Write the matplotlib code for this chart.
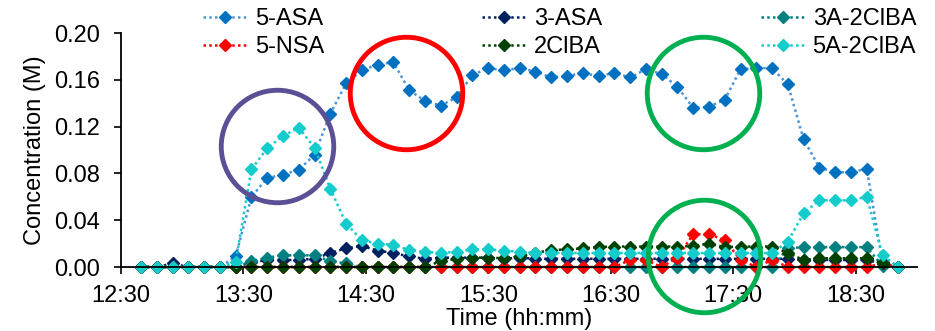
import numpy as np
import matplotlib
matplotlib.use("Agg")
import matplotlib.pyplot as plt

plt.rcParams['font.family'] = ['Liberation Sans', 'DejaVu Sans']

# sampling: first sample ~12:39:48, one sample every ~7.7 min
t_start = 12 + 39.8 / 60
t_step = 7.73 / 60

asa5 = [0, 0, 0, 0, 0, 0, 0.009, 0.060, 0.076, 0.079,
        0.083, 0.096, 0.131, 0.157, 0.168, 0.173, 0.175, 0.151, 0.142, 0.138,
        0.145, 0.164, 0.170, 0.168, 0.170, 0.167, 0.162, 0.163, 0.166, 0.163,
        0.166, 0.162, 0.169, 0.165, 0.154, 0.136, 0.137, 0.143, 0.169, 0.170,
        0.170, 0.156, 0.109, 0.085, 0.081, 0.081, 0.084, 0.004, 0]
asa3 = [0, 0, 0.003, 0, 0, 0, 0, 0.004, 0.006, 0.006,
        0.006, 0.007, 0.012, 0.016, 0.018, 0.014, 0.012, 0.009, 0.007, 0.008,
        0.008, 0.008, 0.008, 0.007, 0.008, 0.007, 0.007, 0.007, 0.007, 0.007,
        0.007, 0.007, 0.007, 0.007, 0.007, 0.007, 0.007, 0.007, 0.007, 0.007,
        0.007, 0.007, 0.006, 0.006, 0.006, 0.006, 0.006, 0.003, 0]
a3_2clba = [0, 0, 0, 0, 0, 0, 0, 0.005, 0.008, 0.010,
            0.010, 0.010, 0.005, 0.003, 0, 0, 0, 0, 0, 0,
            0, 0, 0, 0, 0, 0, 0, 0, 0, 0,
            0, 0, 0, 0, 0, 0, 0, 0, 0, 0,
            0, 0.016, 0.017, 0.017, 0.017, 0.017, 0.017, 0.001, 0]
nsa5 = [0, 0, 0, 0, 0, 0, 0, 0, 0, 0,
        0, 0, 0, 0, 0, 0, 0, 0, 0, 0,
        0, 0, 0, 0, 0, 0, 0, 0, 0, 0,
        0, 0.006, 0.006, 0, 0.008, 0.028, 0.028, 0.023, 0.006, 0,
        0.006, 0, 0, 0, 0, 0, 0, 0.003, 0]
clba2 = [0, 0, 0, 0, 0, 0, 0, 0, 0, 0,
         0, 0, 0, 0, 0, 0, 0, 0, 0, 0.005,
         0.007, 0.008, 0.008, 0.0075, 0.009, 0.012, 0.0145, 0.015, 0.016, 0.017,
         0.0175, 0.0175, 0.0175, 0.0175, 0.0175, 0.018, 0.020, 0.017, 0.0175, 0.0175,
         0.0175, 0.012, 0.006, 0.0075, 0.0075, 0.0075, 0.0075, 0.003, 0]
a5_2clba = [0, 0, 0, 0, 0, 0, 0.0045, 0.0835, 0.1015, 0.112,
            0.119, 0.102, 0.067, 0.037, 0.023, 0.020, 0.019, 0.0145, 0.013, 0.012,
            0.013, 0.015, 0.015, 0.014, 0.013, 0.012, 0.012, 0.012, 0.012, 0.012,
            0.012, 0.012, 0.012, 0.012, 0.012, 0.012, 0.012, 0.012, 0.012, 0.012,
            0.012, 0.0217, 0.046, 0.057, 0.057, 0.057, 0.060, 0.010, 0]

tick_hours = [12.5, 13.5, 14.5, 15.5, 16.5, 17.5, 18.5]
tick_labels = ['12:30', '13:30', '14:30', '15:30', '16:30', '17:30', '18:30']

# (label, values, line colour, marker colour) in Excel drawing order
series = [
    ('5-ASA', asa5, '#4C94D8', '#0070C0'),
    ('3-ASA', asa3, '#002060', '#002060'),
    ('3A-2ClBA', a3_2clba, '#008080', '#008080'),
    ('5-NSA', nsa5, '#FF0000', '#FF0000'),
    ('2ClBA', clba2, '#004000', '#004000'),
    ('5A-2ClBA', a5_2clba, '#14CCCC', '#14CCCC'),
]

# highlight circles: (hour, concentration, colour)
circles = [
    (13.771, 0.1031, '#5B4F96'),
    (14.831, 0.1487, '#FF0000'),
    (17.253, 0.1483, '#00B050'),
    (17.261, 0.0091, '#00B050'),
]

fs = 17
fig = plt.figure(figsize=(9.35, 3.31), dpi=100)
ax = fig.add_axes([121 / 935, 64 / 331, 796 / 935, 234 / 331])

t = t_start + t_step * np.arange(len(asa5))
handles = []
for label, vals, lc, mc in series:
    h, = ax.plot(t, vals, linestyle=(0, (1, 1.3)), linewidth=1.8, color=lc,
                 marker='D', markersize=6, markerfacecolor=mc,
                 markeredgecolor=mc, label=label, clip_on=False)
    handles.append(h)

for cx, cy, col in circles:
    ax.plot([cx], [cy], marker='o', markersize=81, markerfacecolor='none',
            markeredgecolor=col, markeredgewidth=3.5, clip_on=False, zorder=5)

ax.set_xlim(12.5, 19.0)
ax.set_ylim(0, 0.20)
ax.set_yticks(np.arange(0, 0.201, 0.04))
ax.set_yticklabels(['%.2f' % v for v in np.arange(0, 0.201, 0.04)])
ax.set_xticks(tick_hours)
ax.set_xticklabels(tick_labels)
ax.tick_params(axis='both', labelsize=fs, direction='out', length=5, width=1.2, color='black')
ax.tick_params(axis='y', pad=10)
ax.tick_params(axis='x', pad=8)
for s in ['top', 'right']:
    ax.spines[s].set_visible(False)
for s in ['left', 'bottom']:
    ax.spines[s].set_linewidth(1.3)

ax.set_ylabel('Concentration (M)', fontsize=fs, labelpad=6)
fig.text(519 / 935, 6 / 331, 'Time (hh:mm)', fontsize=fs, ha='center', va='baseline')

order = [0, 3, 1, 4, 2, 5]
leg = fig.legend([handles[i] for i in order], [handles[i].get_label() for i in order],
                 ncol=3, loc='upper left', bbox_to_anchor=(203 / 935, 1 - 8 / 331),
                 bbox_transform=fig.transFigure, frameon=False, fontsize=fs,
                 handlelength=1.86, handletextpad=0.34, columnspacing=6.7,
                 labelspacing=0.25, borderpad=0, borderaxespad=0)

fig.savefig('out.png', dpi=100)
